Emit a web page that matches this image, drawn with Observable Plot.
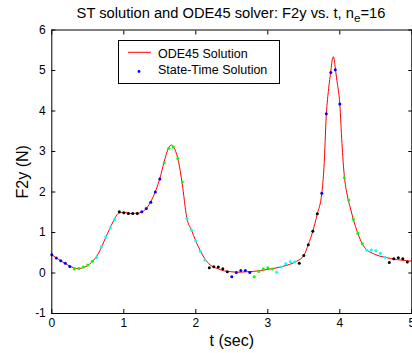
<!DOCTYPE html>
<html><head><meta charset="utf-8">
<script src="https://cdn.jsdelivr.net/npm/d3@7"></script>
<script src="https://cdn.jsdelivr.net/npm/@observablehq/plot@0.6"></script>
<style>
html,body{margin:0;padding:0;background:#fff;}
#title{box-sizing:border-box;width:412px;height:22px;padding-left:51px;padding-right:1px;text-align:center;font-family:"Liberation Sans",Arial,sans-serif;font-size:14.7px;line-height:22px;position:relative;top:2px;white-space:nowrap;color:#000;}
#title sub{font-size:0.8em;line-height:0;vertical-align:-0.3em}
</style></head><body>
<div id="title">ST solution and ODE45 solver: F2y vs. t, n<sub>e</sub>=16</div>
<div id="chart"></div>
<script>
const xTicks = [0, 1, 2, 3, 4, 5];
const yTicks = [-1, 0, 1, 2, 3, 4, 5, 6];

const odeT = [0, 0.1, 0.2, 0.3, 0.37, 0.45, 0.55, 0.65, 0.75, 0.85, 0.93, 1.0, 1.1, 1.2, 1.3, 1.4, 1.5, 1.56, 1.62, 1.665, 1.71, 1.76, 1.81, 1.875, 1.94, 2.0, 2.0625, 2.125, 2.2, 2.3, 2.4, 2.5, 2.6, 2.7, 2.8, 2.9, 3.0, 3.1, 3.2, 3.3, 3.4, 3.5, 3.5625, 3.625, 3.6875, 3.75, 3.78, 3.8125, 3.845, 3.875, 3.895, 3.91, 3.925, 3.9375, 3.96, 4.0, 4.03, 4.0625, 4.1, 4.15, 4.1875, 4.25, 4.3125, 4.375, 4.45, 4.55, 4.65, 4.75, 4.85, 5.0];
const odeF = [0.45, 0.33, 0.22, 0.13, 0.11, 0.14, 0.26, 0.49, 0.88, 1.26, 1.48, 1.50, 1.47, 1.48, 1.57, 1.85, 2.33, 2.74, 3.08, 3.16, 3.05, 2.75, 2.22, 1.36, 1.06, 0.79, 0.55, 0.35, 0.20, 0.11, 0.05, 0.03, 0.02, 0.03, 0.04, 0.06, 0.09, 0.12, 0.16, 0.21, 0.29, 0.43, 0.70, 1.03, 1.46, 1.97, 2.6, 3.9, 4.55, 4.98, 5.26, 5.34, 5.24, 5.06, 4.75, 4.17, 3.2, 2.4, 1.95, 1.58, 1.33, 0.98, 0.72, 0.57, 0.49, 0.42, 0.38, 0.34, 0.32, 0.29];

const stT = [0, 0.0625, 0.125, 0.1875, 0.25, 0.3125, 0.375, 0.4375, 0.5, 0.5625, 0.625, 0.6875, 0.75, 0.8125, 0.875, 0.9375, 1, 1.0625, 1.125, 1.1875, 1.25, 1.3125, 1.375, 1.4375, 1.5, 1.5625, 1.625, 1.6875, 1.75, 1.8125, 1.875, 1.9375, 2, 2.0625, 2.125, 2.1875, 2.25, 2.3125, 2.375, 2.4375, 2.5, 2.5625, 2.625, 2.6875, 2.75, 2.8125, 2.875, 2.9375, 3, 3.0625, 3.125, 3.1875, 3.25, 3.3125, 3.375, 3.4375, 3.5, 3.5625, 3.625, 3.6875, 3.75, 3.8125, 3.875, 3.9375, 4, 4.0625, 4.125, 4.1875, 4.25, 4.3125, 4.375, 4.4375, 4.5, 4.5625, 4.625, 4.6875, 4.75, 4.8125, 4.875, 4.9375];
const stF = [0.45, 0.37, 0.30, 0.24, 0.16, 0.10, 0.11, 0.15, 0.20, 0.29, 0.38, 0.65, 0.89, 1.12, 1.32, 1.51, 1.49, 1.47, 1.47, 1.47, 1.51, 1.59, 1.75, 2.00, 2.32, 2.73, 3.08, 3.11, 2.83, 2.25, 1.35, 1.06, 0.79, 0.54, 0.32, 0.13, 0.155, 0.15, 0.105, 0.03, -0.09, 0.01, 0.06, 0.06, 0.01, -0.09, 0.04, 0.105, 0.13, 0.10, 0.02, 0.15, 0.23, 0.28, 0.28, 0.24, 0.43, 0.70, 1.03, 1.46, 1.97, 3.93, 4.95, 5.02, 4.17, 2.35, 1.80, 1.33, 0.98, 0.72, 0.56, 0.57, 0.55, 0.49, 0.39, 0.26, 0.35, 0.375, 0.35, 0.27];
const elementColors = ["#0000ff", "#00ff00", "#00ffff", "#000000", "#0000ff", "#00ff00", "#00ffff", "#000000", "#0000ff", "#00ff00", "#00ffff", "#000000", "#0000ff", "#00ff00", "#00ffff", "#000000"];
const pointsPerElement = 5;

const ode = odeT.map((t, i) => ({t, f: odeF[i]}));
const st = stT.map((t, i) => ({t, f: stF[i], color: elementColors[Math.floor(i / pointsPerElement)]}));

const W = 412, H = 331, mL = 51.3, mR = 0.7, mT = 7.5, mB = 40;
const font = '"Liberation Sans", Arial, sans-serif';

const chart = Plot.plot({
  width: W, height: H,
  marginLeft: mL, marginRight: mR, marginTop: mT, marginBottom: mB,
  style: {fontFamily: font, fontSize: "12px", color: "#000", background: "#fff", overflow: "visible"},
  x: {domain: [0, 5], label: null},
  y: {domain: [-1, 6], label: null},
  color: {type: "identity"},
  marks: [
    Plot.line(ode, {x: "t", y: "f", stroke: "#ff0000", strokeWidth: 1, curve: "monotone-x"}),
    Plot.dot(st, {x: "t", y: "f", fill: "color", r: 1.5, stroke: null}),
    Plot.frame({stroke: "#000", strokeWidth: 1}),
    Plot.axisX({ticks: xTicks, anchor: "bottom", tickSize: 4, dy: -4, tickFormat: () => "", label: null}),
    Plot.axisX({ticks: xTicks, anchor: "top", tickSize: 4, dy: 4, tickFormat: () => "", label: null}),
    Plot.axisY({ticks: yTicks, anchor: "left", tickSize: 4, dx: 4, tickFormat: () => "", label: null}),
    Plot.axisY({ticks: yTicks, anchor: "right", tickSize: 4, dx: -4, tickFormat: () => "", label: null}),
    Plot.axisX({ticks: xTicks, anchor: "bottom", tickSize: 0, tickPadding: 5, fontSize: 12, tickFormat: d => String(d), label: null}),
    Plot.axisY({ticks: yTicks, anchor: "left", tickSize: 0, tickPadding: 6, fontSize: 12, tickFormat: d => String(d), label: null}),
    Plot.text(["t (sec)"], {text: d => d, frameAnchor: "bottom", lineAnchor: "top", textAnchor: "middle", dy: 21, fontSize: 16}),
    Plot.text(["F2y (N)"], {text: d => d, frameAnchor: "left", lineAnchor: "middle", textAnchor: "middle", rotate: -90, dx: -29, fontSize: 16})
  ]
});
document.getElementById("chart").appendChild(chart);

// legend inside the plot area
const svg = d3.select(chart);
const lg = svg.append("g").attr("font-family", font).attr("font-size", "12.5px").attr("fill", "#000").attr("text-anchor", "start");
lg.append("rect").attr("x", 118.5).attr("y", 18.5).attr("width", 161).attr("height", 43)
  .attr("fill", "#fff").attr("stroke", "#000").attr("stroke-width", 1);
lg.append("line").attr("x1", 128).attr("x2", 151).attr("y1", 30.3).attr("y2", 30.3)
  .attr("stroke", "#ff0000").attr("stroke-width", 1);
lg.append("text").attr("x", 158).attr("y", 35.5).attr("text-anchor", "start").text("ODE45 Solution");
lg.append("circle").attr("cx", 139).attr("cy", 49.5).attr("r", 1.4).attr("fill", "#0000ff");
lg.append("text").attr("x", 158).attr("y", 52).attr("text-anchor", "start").text("State-Time Solution");
</script>
</body></html>
